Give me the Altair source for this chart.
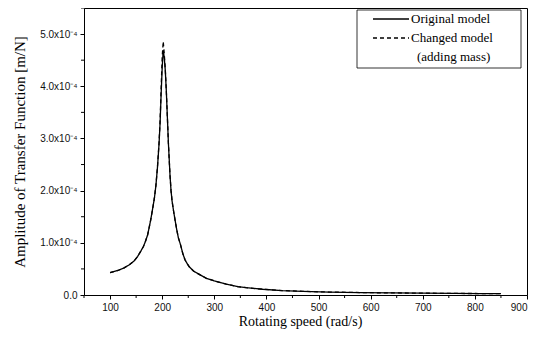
import altair as alt
import pandas as pd

# Rotating speed (rad/s)
speed = [100, 115, 127, 137, 146, 153, 159, 164, 168, 172, 175, 178, 181, 185, 188,
         191, 194, 196, 198, 200, 202, 204, 206, 208, 210, 212, 215, 217, 219, 222,
         225, 228, 231, 235, 240, 244, 248, 252, 260, 272, 285, 300, 323, 345, 361,
         393, 430, 470, 520, 580, 640, 700, 760, 810, 850]
# Amplitude (x1e-4 m/N), original model
orig = [0.43, 0.47, 0.52, 0.58, 0.65, 0.74, 0.84, 0.93, 1.03, 1.15, 1.29, 1.44, 1.61, 1.85, 2.10,
        2.45, 2.90, 3.30, 3.85, 4.35, 4.69, 4.55, 4.30, 3.90, 3.40, 2.90, 2.30, 2.00, 1.80, 1.60,
        1.42, 1.25, 1.10, 0.97, 0.78, 0.67, 0.60, 0.54, 0.46, 0.39, 0.32, 0.27, 0.21, 0.16, 0.14,
        0.11, 0.085, 0.07, 0.057, 0.047, 0.04, 0.035, 0.03, 0.028, 0.025]
# Amplitude (x1e-4 m/N), changed model (adding mass)
changed = [0.43, 0.47, 0.52, 0.58, 0.65, 0.74, 0.84, 0.93, 1.03, 1.15, 1.29, 1.44, 1.61, 1.85, 2.10,
           2.46, 2.92, 3.34, 3.95, 4.55, 4.86, 4.62, 4.32, 3.90, 3.40, 2.90, 2.30, 2.00, 1.80, 1.60,
           1.42, 1.25, 1.10, 0.97, 0.78, 0.67, 0.60, 0.54, 0.46, 0.39, 0.32, 0.27, 0.21, 0.16, 0.14,
           0.11, 0.085, 0.07, 0.057, 0.047, 0.04, 0.035, 0.03, 0.028, 0.025]

x_major = [100, 200, 300, 400, 500, 600, 700, 800, 900]
x_minor = [50, 150, 250, 350, 450, 550, 650, 750, 850]
y_major = [0, 1, 2, 3, 4, 5]
y_minor = [0.5, 1.5, 2.5, 3.5, 4.5, 5.5]

df_orig = pd.DataFrame({"speed": speed, "amp": [v * 1e-4 for v in orig]})
df_chg = pd.DataFrame({"speed": speed, "amp": [v * 1e-4 for v in changed]})

W, H = 443, 287
serif = "Liberation Serif"
sans = "Liberation Sans"

xs = alt.Scale(domain=[50, 900], nice=False, zero=False)
ys = alt.Scale(domain=[0, 5.5e-4], nice=False)

x_axis = alt.Axis(values=x_major, title="Rotating speed (rad/s)", grid=False,
                  tickSize=4, labelPadding=3, titleX=216, titleY=19,
                  labelFont=sans, labelFontSize=10, labelColor="#111",
                  titleFont=serif, titleFontSize=14, titleFontWeight="normal",
                  titleColor="black", domainColor="black", tickColor="black")
y_axis = alt.Axis(values=[v * 1e-4 for v in y_major],
                  labelExpr="format(datum.value*10000, '.1f') + (datum.value == 0 ? '' : 'x10⁻⁴')",
                  title="Amplitude of Transfer Function [m/N]", grid=False,
                  tickSize=4, labelPadding=3, titleX=-57,
                  labelFont=sans, labelFontSize=10, labelColor="#111",
                  titleFont=serif, titleFontSize=15, titleFontWeight="normal",
                  titleColor="black", domainColor="black", tickColor="black")

X = alt.X("speed:Q", scale=xs, axis=x_axis)
Y = alt.Y("amp:Q", scale=ys, axis=y_axis)

base_line = alt.Chart(df_orig).mark_line(color="black", strokeWidth=1.3).encode(x=X, y=Y)
chg_line = alt.Chart(df_chg).mark_line(color="black", strokeWidth=1.3, strokeDash=[4, 3]).encode(x=X, y=Y)

minor_x = alt.Chart(pd.DataFrame({"speed": x_minor})).mark_rule(color="black").encode(
    x=X, y=alt.value(H), y2=alt.value(H + 3))
minor_y = alt.Chart(pd.DataFrame({"amp": [v * 1e-4 for v in y_minor]})).mark_rule(color="black").encode(
    y=Y, x=alt.value(0), x2=alt.value(-3))

one = pd.DataFrame({"a": [0]})
bx0, bx1 = 273, 437
box = alt.Chart(one).mark_rect(fill="white", stroke="black", strokeWidth=0.8).encode(
    x=alt.value(bx0), x2=alt.value(bx1), y=alt.value(2), y2=alt.value(60))
leg_solid = alt.Chart(one).mark_rule(color="black", strokeWidth=1.3).encode(
    x=alt.value(bx0 + 16), x2=alt.value(bx0 + 52), y=alt.value(11))
leg_dash = alt.Chart(one).mark_rule(color="black", strokeWidth=1.3, strokeDash=[4, 3]).encode(
    x=alt.value(bx0 + 16), x2=alt.value(bx0 + 52), y=alt.value(30))
tstyle = dict(font=serif, fontSize=13, align="left", baseline="middle", color="black")
t1 = alt.Chart(one).mark_text(**tstyle).encode(
    x=alt.value(bx0 + 54), y=alt.value(11), text=alt.value("Original model"))
t2 = alt.Chart(one).mark_text(**tstyle).encode(
    x=alt.value(bx0 + 54), y=alt.value(30), text=alt.value("Changed model"))
t3 = alt.Chart(one).mark_text(**tstyle).encode(
    x=alt.value(bx0 + 60), y=alt.value(49), text=alt.value("(adding mass)"))

chart = alt.layer(base_line, chg_line, minor_x, minor_y, box, leg_solid, leg_dash, t1, t2, t3).properties(
    width=W, height=H,
    autosize=alt.AutoSizeParams(type="none"),
    padding={"left": 76, "top": 0, "right": 7, "bottom": 40},
    background="white",
).configure_view(stroke="black", strokeWidth=1)

chart.save("out.html", embed_options={"renderer": "svg", "actions": False})
